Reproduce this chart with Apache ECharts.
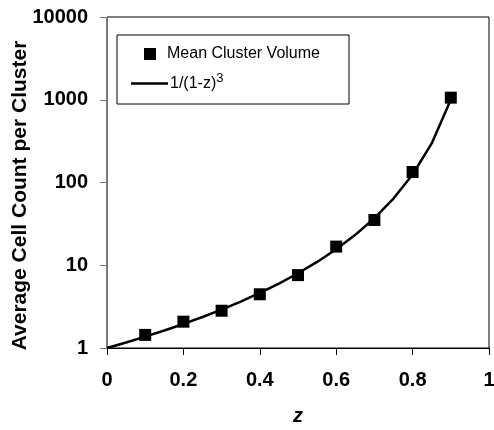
<!DOCTYPE html>
<html><head><meta charset="utf-8">
<script src="https://cdn.jsdelivr.net/npm/echarts@6/dist/echarts.min.js"></script>
<style>html,body{margin:0;padding:0;background:#fff}#c{width:494px;height:430px}</style>
</head><body><div id="c"></div>
<script>
const markerZ = [0.1, 0.2, 0.3, 0.4, 0.5, 0.6, 0.7, 0.8, 0.9];
const markerVol = [1.44, 2.08, 2.82, 4.46, 7.6, 16.8, 35.2, 134, 1060];
const lineZ = [0, 0.05, 0.1, 0.15, 0.2, 0.25, 0.3, 0.35, 0.4, 0.45, 0.5, 0.55, 0.6, 0.65, 0.7, 0.75, 0.8, 0.85, 0.9];
const lineVal = [1, 1.166, 1.372, 1.628, 1.953, 2.370, 2.915, 3.641, 4.630, 6.011, 8, 10.97, 15.63, 23.32, 37.04, 64, 125, 296.3, 1000];
const xTicks = [0, 0.2, 0.4, 0.6, 0.8, 1];
const yTicks = [1, 10, 100, 1000, 10000];
const seriesNames = ['Mean Cluster Volume', '1/(1-z)^3'];

const FONT = 'Liberation Sans, Arial, Helvetica, sans-serif';
const chart = echarts.init(document.getElementById('c'), null, {renderer: 'canvas'});
chart.setOption({
  animation: false,
  backgroundColor: '#fff',
  grid: {left: 107, right: 5, top: 17, bottom: 82, containLabel: false, outerBoundsMode: 'none',
         show: true, borderColor: '#000', borderWidth: 1, backgroundColor: 'transparent'},
  graphic: [{type: 'rect', shape: {x: 117, y: 35, width: 232, height: 69}, style: {fill: '#fff', stroke: '#000', lineWidth: 1}, z: 5}],
  legend: [
    {data: [{name: seriesNames[0], icon: 'rect', itemStyle: {color: '#000', opacity: 1}}], left: 144, top: 46, padding: 0, itemWidth: 12, itemHeight: 12, itemGap: 0, z: 10,
     textStyle: {fontFamily: FONT, fontSize: 16, color: '#000', padding: [0, 0, 0, 6]}},
    {data: [{name: seriesNames[1], icon: 'rect', itemStyle: {color: '#000'}}], left: 131, top: 72, padding: 0, itemWidth: 37, itemHeight: 2.5, itemGap: 0, z: 10,
     formatter: () => '1/(1-z){sup|3}',
     textStyle: {fontFamily: FONT, fontSize: 16, color: '#000', padding: [0, 0, 0, -3],
       rich: {sup: {fontFamily: FONT, fontSize: 13, color: '#000', verticalAlign: 'bottom', padding: [0, 0, 10, 0]}}}}
  ],
  xAxis: {
    type: 'value', min: 0, max: 1, interval: 0.2,
    name: 'z', nameLocation: 'middle', nameGap: 58, nameMoveOverlap: false,
    nameTextStyle: {fontFamily: FONT, fontSize: 20, fontWeight: 'bold', fontStyle: 'italic', color: '#000'},
    axisLine: {show: true, onZero: false, lineStyle: {color: '#000', width: 1}},
    axisTick: {show: true, inside: false, length: 7, lineStyle: {color: '#000'}},
    axisLabel: {margin: 22, fontFamily: FONT, fontSize: 20, fontWeight: 'bold', color: '#000',
      formatter: v => { const t = xTicks.find(x => Math.abs(x - v) < 1e-9); return t === undefined ? '' : String(t); }},
    splitLine: {show: false}
  },
  yAxis: {
    type: 'log', logBase: 10, min: yTicks[0], max: yTicks[yTicks.length - 1],
    name: 'Average Cell Count per Cluster', nameLocation: 'middle', nameGap: 76, nameMoveOverlap: false,
    nameTextStyle: {fontFamily: FONT, fontSize: 21, fontWeight: 'bold', color: '#000', padding: [0, 26, 0, 0]},
    axisLine: {show: true, lineStyle: {color: '#777', width: 1}},
    axisTick: {show: true, inside: false, length: 7, lineStyle: {color: '#777'}},
    axisLabel: {margin: 19, fontFamily: FONT, fontSize: 20, fontWeight: 'bold', color: '#000',
      formatter: v => { const t = yTicks.find(y => Math.abs(y - v) / y < 1e-6); return t === undefined ? '' : String(t); }},
    splitLine: {show: false}, minorTick: {show: false}
  },
  series: [
    {name: seriesNames[0], type: 'scatter', symbol: 'rect', symbolSize: 12, z: 4,
     itemStyle: {color: '#000', opacity: 1}, data: markerZ.map((z, i) => [z, markerVol[i]])},
    {name: seriesNames[1], type: 'line', symbol: 'none', smooth: false, z: 3,
     lineStyle: {color: '#000', width: 2.5}, itemStyle: {color: '#000'},
     data: lineZ.map((z, i) => [z, lineVal[i]])}
  ]
});
</script></body></html>
